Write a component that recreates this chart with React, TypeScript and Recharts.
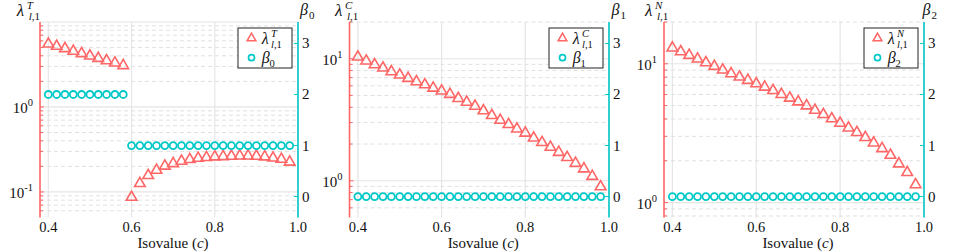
import React from 'react';
import { ComposedChart, Scatter, XAxis, YAxis, ReferenceLine } from 'recharts';

const FONT = '"Liberation Serif", serif';
const RED = '#ff6666';
const CYAN = '#00c8c8';
const TEXT = '#111111';
const TS: any = { fontFamily: FONT };

// ---------------- data ----------------
const isovalues = [
  0.40, 0.42, 0.44, 0.46, 0.48, 0.50, 0.52, 0.54, 0.56, 0.58,
  0.60, 0.62, 0.64, 0.66, 0.68, 0.70, 0.72, 0.74, 0.76, 0.78,
  0.80, 0.82, 0.84, 0.86, 0.88, 0.90, 0.92, 0.94, 0.96, 0.98,
];

const lambdaT = [
  5.75, 5.41, 5.08, 4.72, 4.43, 4.16, 3.90, 3.66, 3.44, 3.20,
  0.0904, 0.131, 0.163, 0.188, 0.210, 0.225, 0.240, 0.251, 0.260, 0.265,
  0.270, 0.272, 0.275, 0.277, 0.277, 0.275, 0.270, 0.262, 0.253, 0.234,
];
const beta0 = [
  2, 2, 2, 2, 2, 2, 2, 2, 2, 2,
  1, 1, 1, 1, 1, 1, 1, 1, 1, 1,
  1, 1, 1, 1, 1, 1, 1, 1, 1, 1,
];

const lambdaC = [
  10.65, 9.88, 9.21, 8.65, 8.07, 7.58, 7.11, 6.68, 6.31, 5.92,
  5.60, 5.26, 4.87, 4.54, 4.21, 3.86, 3.53, 3.23, 2.98, 2.74,
  2.53, 2.31, 2.12, 1.94, 1.76, 1.60, 1.43, 1.29, 1.12, 0.92,
];
const beta1 = [
  0, 0, 0, 0, 0, 0, 0, 0, 0, 0,
  0, 0, 0, 0, 0, 0, 0, 0, 0, 0,
  0, 0, 0, 0, 0, 0, 0, 0, 0, 0,
];

const lambdaN = [
  13.35, 12.55, 11.81, 11.11, 10.45, 9.84, 9.25, 8.71, 8.24, 7.79,
  7.37, 6.97, 6.59, 6.17, 5.81, 5.46, 5.11, 4.75, 4.42, 4.12,
  3.83, 3.54, 3.28, 3.02, 2.76, 2.51, 2.25, 1.95, 1.69, 1.38,
];
const beta2 = [
  0, 0, 0, 0, 0, 0, 0, 0, 0, 0,
  0, 0, 0, 0, 0, 0, 0, 0, 0, 0,
  0, 0, 0, 0, 0, 0, 0, 0, 0, 0,
];

const xTicks = [0.4, 0.6, 0.8, 1.0];
const betaTicks = [0, 1, 2, 3];

const majorTicksT = [0.1, 1];
const topLineT = [10];
const minorTicksT = [0.06, 0.07, 0.08, 0.09, 0.2, 0.3, 0.4, 0.5, 0.6, 0.7, 0.8, 0.9, 2, 3, 4, 5, 6, 7, 8, 9];
const majorTicksC = [1, 10];
const minorTicksC = [0.6, 0.7, 0.8, 0.9, 2, 3, 4, 5, 6, 7, 8, 9, 20];
const majorTicksN = [1, 10];
const minorTicksN = [0.8, 0.9, 2, 3, 4, 5, 6, 7, 8, 9, 20];

const xDomain = [0.38, 1.0];
const betaDomain = [-0.41, 3.42];

const panels = [
  { key: 'T', left: 0, width: 320, lw: 40, rw: 22, plotL: 40, plotR: 298, logDomain: [0.05, 10],
    lam: lambdaT, beta: beta0, majors: majorTicksT, extra: topLineT, minors: minorTicksT, sup: 'T', bsub: '0', lamX: 16.7, betaX: 300 },
  { key: 'C', left: 310, width: 330, lw: 39.5, rw: 31, plotL: 349.5, plotR: 609, logDomain: [0.5, 20],
    lam: lambdaC, beta: beta1, majors: majorTicksC, extra: [], minors: minorTicksC, sup: 'C', bsub: '1', lamX: 335, betaX: 611.5 },
  { key: 'N', left: 630, width: 330, lw: 34, rw: 36, plotL: 664, plotR: 924, logDomain: [0.78, 20],
    lam: lambdaN, beta: beta2, majors: majorTicksN, extra: [], minors: minorTicksN, sup: 'N', bsub: '2', lamX: 645, betaX: 922.5 },
];

// ---------------- shapes & ticks ----------------
const Triangle = (props: any) => {
  const { cx, cy } = props;
  if (cx == null || cy == null) return null;
  const w = 5.3;
  const h = 4.6;
  return (
    <path
      d={`M${cx},${cy - h}L${cx - w},${cy + h}L${cx + w},${cy + h}Z`}
      fill="none"
      stroke={RED}
      strokeWidth={1.6}
    />
  );
};

const Ring = (props: any) => {
  const { cx, cy } = props;
  if (cx == null || cy == null) return null;
  return <circle cx={cx} cy={cy} r={3.5} fill="none" stroke={CYAN} strokeWidth={1.8} />;
};

const XTick = (props: any) => {
  const { x, y, payload } = props;
  return (
    <text x={x} y={y + 14} textAnchor="middle" style={TS} fontSize={14.5} fill={TEXT}>
      {Number(payload.value).toFixed(1)}
    </text>
  );
};

const makeLogTick = (majors: number[]) => (props: any) => {
  const { x, y, payload } = props;
  const v = payload.value;
  const isMajor = majors.some((m) => Math.abs(m - v) < 1e-9);
  const exp = Math.round(Math.log10(v));
  return (
    <g>
      <line x1={x} x2={x + (isMajor ? 4 : 3)} y1={y} y2={y} stroke={RED} strokeWidth={1} />
      {isMajor ? (
        <text x={x - 7} y={y + 6} textAnchor="end" style={TS} fontSize={15} fill={TEXT}>
          <tspan>10</tspan>
          <tspan dy={-7} fontSize={10.5}>{exp < 0 ? `-${-exp}` : `${exp}`}</tspan>
        </text>
      ) : null}
    </g>
  );
};

const BetaTick = (props: any) => {
  const { x, y, payload } = props;
  return (
    <g>
      <line x1={x - 4} x2={x} y1={y} y2={y} stroke={CYAN} strokeWidth={1} />
      <text x={x + 4} y={y + 5} textAnchor="start" style={TS} fontSize={15} fill={TEXT}>
        {payload.value}
      </text>
    </g>
  );
};

// ---------------- panel ----------------
function Panel({ cfg }: { cfg: any }) {
  const data = isovalues.map((x, i) => ({ x, lam: cfg.lam[i], beta: cfg.beta[i] }));
  const logTicks = [...cfg.minors, ...cfg.majors].sort((a: number, b: number) => a - b);
  const LogTick = makeLogTick(cfg.majors);
  return (
    <div style={{ position: 'absolute', left: cfg.left, top: 0, width: cfg.width, height: 252 }}>
      <ComposedChart
        width={cfg.width}
        height={252}
        data={data}
        margin={{ top: 22, right: 0, bottom: 0, left: 0 }}
      >
        <XAxis
          type="number"
          dataKey="x"
          domain={xDomain}
          allowDataOverflow
          ticks={xTicks}
          interval={0}
          height={34.5}
          axisLine={false}
          tickLine={false}
          tickSize={0}
          tickMargin={0}
          tick={<XTick />}
        />
        <YAxis
          yAxisId="left"
          orientation="left"
          type="number"
          scale="log"
          domain={cfg.logDomain}
          allowDataOverflow
          ticks={logTicks}
          interval={0}
          width={cfg.lw}
          axisLine={{ stroke: RED, strokeWidth: 1.6 }}
          tickLine={false}
          tickSize={0}
          tickMargin={0}
          tick={LogTick}
        />
        <YAxis
          yAxisId="right"
          orientation="right"
          type="number"
          domain={betaDomain}
          allowDataOverflow
          ticks={betaTicks}
          interval={0}
          width={cfg.rw}
          axisLine={{ stroke: CYAN, strokeWidth: 1.6 }}
          tickLine={false}
          tickSize={0}
          tickMargin={0}
          tick={<BetaTick />}
        />
        {xTicks.map((v) => (
          <ReferenceLine key={`vx${v}`} yAxisId="left" x={v} stroke="#e6e6e6" strokeWidth={1.2} />
        ))}
        {cfg.minors.map((v: number) => (
          <ReferenceLine key={`mn${v}`} yAxisId="left" y={v} stroke="#e0e0e0" strokeWidth={1} strokeDasharray="4 3" />
        ))}
        {[...cfg.majors, ...cfg.extra].map((v: number) => (
          <ReferenceLine key={`mj${v}`} yAxisId="left" y={v} stroke="#e4e4e4" strokeWidth={1.2} />
        ))}
        <Scatter yAxisId="left" dataKey="lam" shape={Triangle} isAnimationActive={false} />
        <Scatter yAxisId="right" dataKey="beta" shape={Ring} isAnimationActive={false} />
      </ComposedChart>
    </div>
  );
}

// ---------------- overlay texts ----------------
function Overlay() {
  return (
    <svg
      width={960}
      height={252}
      style={{ position: 'absolute', left: 0, top: 0, pointerEvents: 'none', fontFamily: FONT }}
    >
      {panels.map((p) => {
        const bx = p.plotR - 60;
        const cx = (p.plotL + p.plotR) / 2 + 4;
        return (
          <g key={p.key}>
            {/* left title */}
            <text x={p.lamX} y={16} fontSize={17} fontStyle="italic" fill={TEXT}>λ</text>
            <text x={p.lamX + 10} y={8.5} fontSize={11} fontStyle="italic" fill={TEXT}>{p.sup}</text>
            <text x={p.lamX + 12} y={20} fontSize={11} fill={TEXT}>
              <tspan fontStyle="italic">l</tspan>,1
            </text>
            {/* right title */}
            <text x={p.betaX} y={15} fontSize={16} fontStyle="italic" fill={TEXT}>β</text>
            <text x={p.betaX + 9} y={18.5} fontSize={11} fill={TEXT}>{p.bsub}</text>
            {/* x label */}
            <text x={cx} y={248} fontSize={15} textAnchor="middle" fill={TEXT}>
              Isovalue (<tspan fontStyle="italic">c</tspan>)
            </text>
            {/* legend */}
            <rect x={bx} y={28} width={54} height={40} fill="#ffffff" stroke="#222222" strokeWidth={1} />
            <path
              d={`M${bx + 13.5},${37 - 3.8}L${bx + 13.5 - 4.4},${37 + 3.8}L${bx + 13.5 + 4.4},${37 + 3.8}Z`}
              fill="none"
              stroke={RED}
              strokeWidth={1.5}
            />
            <text x={bx + 23.7} y={43.5} fontSize={16} fontStyle="italic" fill={TEXT}>λ</text>
            <text x={bx + 33} y={36.5} fontSize={10.5} fontStyle="italic" fill={TEXT}>{p.sup}</text>
            <text x={bx + 33} y={47.5} fontSize={10.5} fill={TEXT}>
              <tspan fontStyle="italic">l</tspan>,1
            </text>
            <circle cx={bx + 13.5} cy={57.7} r={3} fill="none" stroke={CYAN} strokeWidth={1.7} />
            <text x={bx + 23.7} y={63} fontSize={16} fontStyle="italic" fill={TEXT}>β</text>
            <text x={bx + 31.5} y={66.5} fontSize={10.5} fill={TEXT}>{p.bsub}</text>
          </g>
        );
      })}
    </svg>
  );
}

export default function App() {
  return (
    <div style={{ position: 'absolute', left: 0, top: 0, width: 960, height: 252, background: '#ffffff', fontFamily: FONT }}>
      {panels.map((p) => (
        <Panel key={p.key} cfg={p} />
      ))}
      <Overlay />
    </div>
  );
}
